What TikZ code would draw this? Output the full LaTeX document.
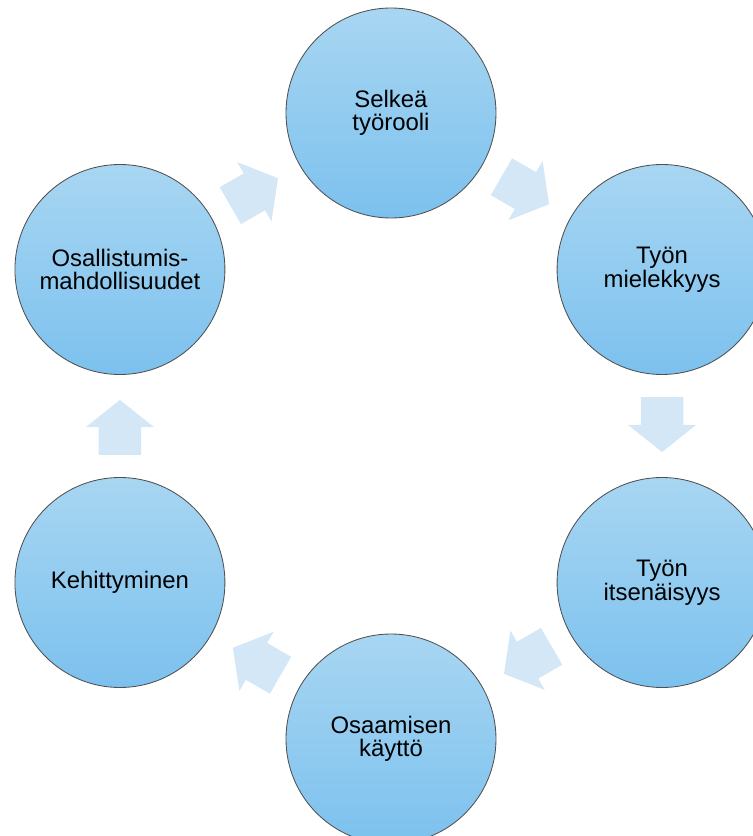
\documentclass[tikz,border=0pt]{standalone}
\usepackage{fontspec}
\setmainfont{Liberation Sans}
\definecolor{cycletop}{RGB}{168,214,242}
\definecolor{cyclebottom}{RGB}{124,193,238}
\definecolor{cycleedge}{RGB}{80,80,80}
\definecolor{flowblue}{RGB}{212,231,247}
\usetikzlibrary{shapes.arrows}

\begin{document}
\begin{tikzpicture}[
    % Define styles
    stage/.style={circle, draw=cycleedge, line width=0.6pt, top color=cycletop, bottom color=cyclebottom, minimum size=5.25cm, inner sep=0pt, align=center, text=black},
    flow/.style={single arrow, draw=none, fill=flowblue, minimum height=1.375cm, minimum width=1.7cm, single arrow head extend=0.325cm, single arrow tip angle=103, inner xsep=0pt, inner ysep=0.525cm},
    % Font
    font=\fontsize{17}{16.8}\selectfont
]

% Page frame (the cycle runs off the right and bottom edges)
\useasboundingbox (-9.775,-10.25) rectangle (9.05,10.65);
\clip (-9.775,-10.25) rectangle (9.05,10.65);

% Stages of the cycle
\node[stage] (rooli) at (90:7.825) {Selkeä\\työrooli};
\node[stage] (mielekkyys) at (30:7.825) {Työn\\mielekkyys};
\node[stage] (itsenaisyys) at (-30:7.825) {Työn\\itsenäisyys};
\node[stage] (osaaminen) at (-90:7.825) {Osaamisen\\käyttö};
\node[stage] (kehitys) at (-150:7.825) {Kehittyminen};
\node[stage] (osallistuminen) at (150:7.825) {Osallistumis-\\mahdollisuudet};

% Flow arrows between stages (clockwise)
\node[flow, rotate=-30] (f1) at (62.1:6.782) {};
\node[flow, rotate=-90] (f2) at (2.1:6.782) {};
\node[flow, rotate=-150] (f3) at (-57.9:6.782) {};
\node[flow, rotate=150] (f4) at (-117.9:6.782) {};
\node[flow, rotate=90] (f5) at (182.1:6.782) {};
\node[flow, rotate=30] (f6) at (122.1:6.782) {};

\end{tikzpicture}
\end{document}
